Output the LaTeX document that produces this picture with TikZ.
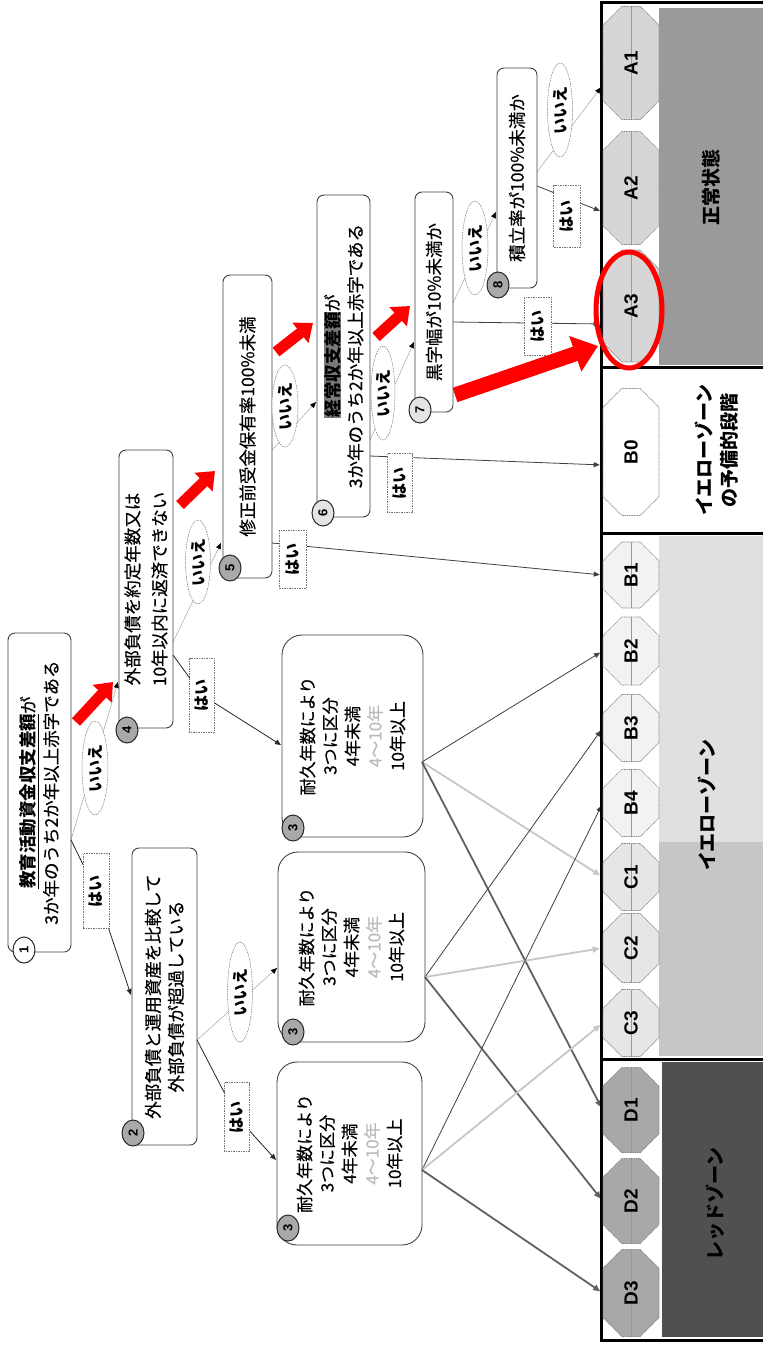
\documentclass[tikz,border=0pt]{standalone}
\usepackage{fontspec}
\setmainfont{Noto Sans CJK JP}[UprightFeatures={FakeBold=0.35}]
\newfontfamily\lat{Liberation Sans}
\usetikzlibrary{shapes.geometric,shapes.misc,arrows.meta,calc}
\pgfdeclarelayer{bg}
\pgfdeclarelayer{paper}
\pgfsetlayers{paper,bg,main}
\definecolor{zoneA}{HTML}{9A9A9A}
\definecolor{zoneB}{HTML}{E0E0E0}
\definecolor{zoneC}{HTML}{C6C6C6}
\definecolor{zoneD}{HTML}{505050}
\definecolor{octA}{HTML}{D6D6D6}
\definecolor{octB}{HTML}{F2F2F2}
\definecolor{octC}{HTML}{E6E6E6}
\definecolor{octD}{HTML}{A8A8A8}
\definecolor{numfill}{HTML}{A9A9A9}
\definecolor{numlight}{HTML}{E4E4E4}
\definecolor{faint}{HTML}{BBBBBB}
\definecolor{hlgray}{HTML}{7A7A7A}
\newcommand\durtext{耐久年数により\\3つに区分\\4年未満\\{\color{faint}4〜10年}\\10年以上}
\begin{document}
\begin{tikzpicture}[x=1pt,y=-1pt,
  qbox/.style={draw=black!75, line width=0.9pt, rounded corners=7pt, rotate=90, align=center, inner sep=0pt, font=\fontsize{17.5}{23}\selectfont},
  tbox/.style={qbox, rounded corners=20pt, font=\fontsize{17}{22.5}\selectfont},
  numc/.style={ellipse, draw=black!85, line width=1pt, fill=numfill, inner sep=0pt, minimum width=26pt, minimum height=22pt, rotate=90, font=\lat\bfseries\fontsize{13}{13}\selectfont},
  nolab/.style={ellipse, draw=black!55, dash pattern=on 1.5pt off 1pt, line width=0.5pt, fill=white, inner sep=0pt, rotate=90, font=\bfseries\fontsize{16}{16}\selectfont},
  yeslab/.style={rectangle, draw=black!55, dash pattern=on 1.5pt off 1pt, line width=0.6pt, fill=white, inner sep=0pt, rotate=90, font=\bfseries\fontsize{16}{16}\selectfont},
  yesline/.style={draw=black!85, line width=0.8pt, -{Triangle[length=6pt,width=5pt]}},
  noline/.style={draw=black!35, line width=0.5pt, -{Triangle[length=6pt,width=5pt,black]}},
  bline/.style={draw=black!75, line width=0.8pt, -{Triangle[length=6pt,width=5pt]}, shorten >=3pt},
  cline/.style={draw=black!22, line width=1.8pt, -{Triangle[length=7pt,width=6pt]}, shorten >=3pt},
  dline/.style={draw=black!62, line width=1.8pt, -{Triangle[length=7pt,width=6pt]}, shorten >=3pt},
  oct/.style={chamfered rectangle, chamfered rectangle sep=15pt, rotate=90, draw=black!50, dash pattern=on 1pt off 0.7pt, line width=0.6pt, inner sep=0pt, minimum height=56pt, font=\lat\bfseries\fontsize{19}{19}\selectfont,
     path picture={\draw[black!40, line width=0.4pt, solid] (path picture bounding box.north) -- (path picture bounding box.south);}},
  zlab/.style={rotate=90, align=center, inner sep=0pt, font=\bfseries\fontsize{19}{25}\selectfont},
  frameline/.style={line width=3pt, draw=black},
  redarr/.style={draw=red, line width=11pt, -{Triangle[length=16pt,width=25pt]}}
]
\useasboundingbox (0,0) rectangle (763,1346);
\begin{pgfonlayer}{paper}
\fill[white] (0,0) rectangle (763,1346);
\end{pgfonlayer}

% zones
\fill[zoneA] (659,8) rectangle (763,365);
\fill[zoneB] (659,536) rectangle (763,842);
\fill[zoneC] (659,842) rectangle (763,1056);
\fill[zoneD] (662,1062) rectangle (763,1337);
\draw[frameline] (763,3) -- (601,3) -- (601,1340) -- (763,1340);
\draw[frameline] (601,367) -- (763,367);
\draw[frameline] (601,533) -- (763,533);
\draw[frameline] (601,1059) -- (763,1059);

\node[zlab] (zA) at (711,187) {正常状態};
\node[zlab] (zB0) at (717,450) {イエローゾーン\\の予備的段階};
\node[zlab] (zB) at (707,805) {イエローゾーン};
\node[zlab] (zD) at (715,1204) {レッドゾーン};

% octagons
\node[oct, fill=octA, minimum width=113pt] (A1) at (631,63) {A1};
\node[oct, fill=octA, minimum width=113pt] (A2) at (631,188) {A2};
\node[oct, fill=octA, minimum width=112pt] (A3) at (631,306) {A3};
\node[oct, fill=white, minimum width=127pt, path picture={}] (B0) at (631,452) {B0};
\node[oct, fill=octB, minimum width=66pt] (B1) at (631,575) {B1};
\node[oct, fill=octB, minimum width=68pt] (B2) at (631,651) {B2};
\node[oct, fill=octB, minimum width=67pt] (B3) at (631,728) {B3};
\node[oct, fill=octB, minimum width=67pt] (B4) at (631,803) {B4};
\node[oct, fill=octC, minimum width=67pt] (C1) at (631,877) {C1};
\node[oct, fill=octC, minimum width=69pt] (C2) at (631,948) {C2};
\node[oct, fill=octC, minimum width=67pt] (C3) at (631,1023) {C3};
\node[oct, fill=octD, minimum width=85pt] (D1) at (631,1110) {D1};
\node[oct, fill=octD, minimum width=85pt] (D2) at (631,1201) {D2};
\node[oct, fill=octD, minimum width=87pt] (D3) at (631,1293) {D3};

% question boxes
\node[qbox, minimum width=319pt, minimum height=63pt] (q1) at (39.5,792.5) {\underline{\textbf{教育活動資金収支差額}}が\\3か年のうち2か年以上赤字である};
\node[qbox, minimum width=297pt, minimum height=65pt] (q2) at (164.5,996.5) {外部負債と運用資産を比較して\\外部負債が超過している};
\node[qbox, minimum width=278pt, minimum height=54pt, font=\fontsize{17.5}{27}\selectfont] (q4) at (146,589) {外部負債を約定年数又は\\10年以内に返済できない};
\node[qbox, minimum width=303pt, minimum height=49pt] (q5) at (247.5,426.5) {修正前受金保有率100\%未満};
\node[qbox, minimum width=322pt, minimum height=53pt] (q6) at (343.5,356) {{\setlength{\fboxsep}{0.5pt}\colorbox{hlgray}{\textbf{経常収支差額}}}が\\3か年のうち2か年以上赤字である};
\node[qbox, minimum width=220pt, minimum height=38pt] (q7) at (434,302) {黒字幅が10\%未満か};
\node[qbox, minimum width=220pt, minimum height=40pt] (q8) at (517,178) {積立率が100\%未満か};
\node[tbox, minimum width=202pt, minimum height=141pt] (q3a) at (352.5,736) {\durtext};
\node[tbox, minimum width=190pt, minimum height=147pt] (q3b) at (351.5,947) {\durtext};
\node[tbox, minimum width=183pt, minimum height=145pt] (q3c) at (349.5,1153.5) {\durtext};

% numbered circles
\node[numc, fill=white] (n1) at (24,950) {1};
\node[numc] (n2) at (133,1133) {2};
\node[numc] (n4) at (127,730) {4};
\node[numc] (n5) at (230,568) {5};
\node[numc, fill=numlight] (n6) at (323,513) {6};
\node[numc, fill=numlight] (n7) at (420,410) {7};
\node[numc] (n8) at (498,285) {8};
\node[numc] (n3a) at (293,828) {3};
\node[numc] (n3b) at (293,1032) {3};
\node[numc] (n3c) at (288,1228) {3};

% answer labels
\node[nolab, minimum width=94pt, minimum height=26pt] (e1) at (95,768) {いいえ};
\node[nolab, minimum width=100pt, minimum height=25pt] (e2) at (240,992) {いいえ};
\node[nolab, minimum width=84pt, minimum height=25pt] (e4) at (198,562) {いいえ};
\node[nolab, minimum width=82pt, minimum height=26pt] (e5) at (285,406) {いいえ};
\node[nolab, minimum width=94pt, minimum height=24pt] (e6) at (383,393) {いいえ};
\node[nolab, minimum width=94pt, minimum height=26pt] (e7) at (475,248) {いいえ};
\node[nolab, minimum width=94pt, minimum height=25pt] (e8) at (560,110) {いいえ};
\node[yeslab, minimum width=75pt, minimum height=26pt] (h1) at (96,891) {はい};
\node[yeslab, minimum width=69pt, minimum height=25pt] (h2) at (237,1117) {はい};
\node[yeslab, minimum width=74pt, minimum height=25pt] (h4) at (202,695) {はい};
\node[yeslab, minimum width=58pt, minimum height=27pt] (h5) at (293,559) {はい};
\node[yeslab, minimum width=59pt, minimum height=25pt] (h6) at (400,483) {はい};
\node[yeslab, minimum width=58pt, minimum height=27pt] (h7) at (538,326) {はい};
\node[yeslab, minimum width=62pt, minimum height=27pt] (h8) at (567,216) {はい};

% connector end points on the boxes
\coordinate (p1) at (71,840);
\coordinate (t4) at (118,682);
\coordinate (t2) at (131,995);
\coordinate (p2) at (197,1040);
\coordinate (t3b) at (277,968);
\coordinate (t3c) at (276,1160);
\coordinate (p4n) at (173,642);
\coordinate (p4y) at (173,655);
\coordinate (t5) at (221,543);
\coordinate (t3a) at (281,745);
\coordinate (p5y) at (272,543);
\coordinate (p5n) at (272,450);
\coordinate (t6) at (316,402);
\coordinate (p6y) at (370,456);
\coordinate (p6n) at (370,440);
\coordinate (t7) at (414,342);
\coordinate (p7y) at (453,322);
\coordinate (p7n) at (453,303);
\coordinate (t8) at (496,212);
\coordinate (p8y) at (537,186);
\coordinate (p8n) at (537,172);
\coordinate (o3a) at (422,762);
\coordinate (o3b) at (425,977);
\coordinate (o3c) at (422,1170);

\begin{pgfonlayer}{bg}
\draw[noline] (p1) -- (t4);
\draw[yesline] (p1) -- (h1.center) -- (t2);
\draw[noline] (p2) -- (t3b);
\draw[yesline] (p2) -- (h2.center) -- (t3c);
\draw[noline] (p4n) -- (t5);
\draw[yesline] (p4y) -- (h4.center) -- (t3a);
\draw[bline] (p5y) -- (B1.north);
\draw[noline] (p5n) -- (t6);
\draw[bline] (p6y) -- ($(B0.north)+(0,13)$);
\draw[noline] (p6n) -- (t7);
\draw[bline] (p7y) -- ($(A3.north)+(0,18)$);
\draw[noline] (p7n) -- (t8);
\draw[bline] (p8y) -- ($(A2.north)+(0,24)$);
\draw[noline, shorten >=3pt] (p8n) -- ($(A1.north)+(0,22)$);
\draw[bline] (o3a) -- (B2.north);
\draw[cline] (o3a) -- (C1.north);
\draw[dline] (o3a) -- (D1.north);
\draw[bline] (o3b) -- (B3.north);
\draw[cline] (o3b) -- (C2.north);
\draw[dline] (o3b) -- (D2.north);
\draw[bline] (o3c) -- (B4.north);
\draw[cline] (o3c) -- (C3.north);
\draw[dline] (o3c) -- (D3.north);
\end{pgfonlayer}

% highlight
\node[draw=red, line width=5pt, ellipse, minimum width=66pt, minimum height=116pt, inner sep=0pt] (hl) at (629,310) {};
\coordinate (r1s) at (76,722);  \coordinate (r1e) at (113,682);
\coordinate (r2s) at (180,505); \coordinate (r2e) at (215,471);
\coordinate (r3s) at (276,352); \coordinate (r3e) at (313,323);
\coordinate (r4s) at (376,337); \coordinate (r4e) at (410,306);
\coordinate (r5s) at (455,395); \coordinate (r5e) at (598,346);
\draw[redarr] (r1s) -- (r1e);
\draw[redarr] (r2s) -- (r2e);
\draw[redarr] (r3s) -- (r3e);
\draw[redarr] (r4s) -- (r4e);
\draw[redarr, line width=15pt, -{Triangle[length=24pt,width=36pt]}] (r5s) -- (r5e);
\end{tikzpicture}
\end{document}
